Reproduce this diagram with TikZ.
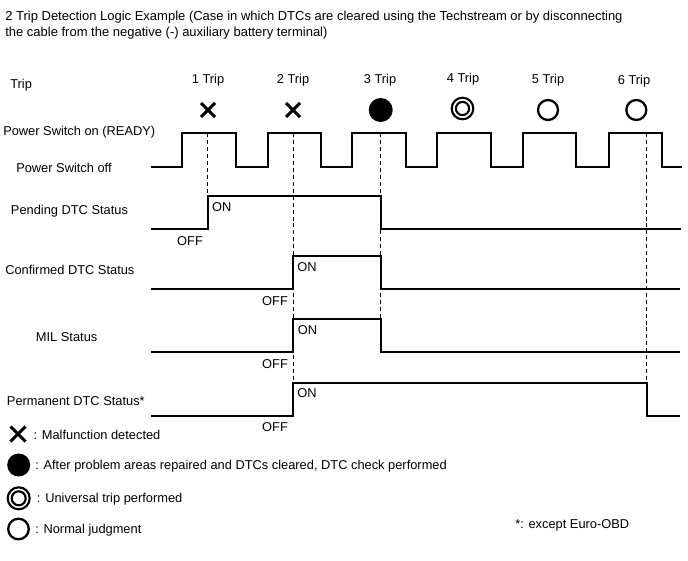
\documentclass[tikz,border=0pt]{standalone}
\usepackage{fontspec}
\setmainfont{Liberation Sans}
\begin{document}
\begin{tikzpicture}[x=0.75pt,y=-0.75pt,
  lbl/.style={inner sep=0pt,font=\fontsize{9.63pt}{11pt}\selectfont},
  ttl/.style={inner sep=0pt,anchor=west,font=\fontsize{9.75pt}{11pt}\selectfont},
  wave/.style={line width=1.5pt,line join=miter},
  guide/.style={line width=1.1pt,dash pattern=on 3pt off 2.2pt},
  xmark/.style={line width=2.3pt},
  ring/.style={line width=1.6pt}]
\path[use as bounding box] (0,0) rectangle (688,560);
% title
\node[ttl] (t1) at (5,17) {2 Trip Detection Logic Example (Case in which DTCs are cleared using the Techstream or by disconnecting};
\node[ttl] (t2) at (5,33.5) {the cable from the negative (-) auxiliary battery terminal)};
% left labels
\node[lbl,anchor=west] (ltrip) at (10,85) {Trip};
\node[lbl,anchor=west] (lon) at (3,132.5) {Power Switch on (READY)};
\node[lbl,anchor=west] (loff) at (16,168) {Power Switch off};
\node[lbl,anchor=west] (lpend) at (10.7,211.5) {Pending DTC Status};
\node[lbl,anchor=west] (lconf) at (5,270) {Confirmed DTC Status};
\node[lbl,anchor=west] (lmil) at (35.7,337.5) {MIL Status};
\node[lbl,anchor=west] (lperm) at (6.7,401.5) {Permanent DTC Status*};
% trip labels
\node[lbl] (tr1) at (208,80) {1 Trip};
\node[lbl] (tr2) at (293,80) {2 Trip};
\node[lbl] (tr3) at (380,80) {3 Trip};
\node[lbl] (tr4) at (463,79) {4 Trip};
\node[lbl] (tr5) at (548,80) {5 Trip};
\node[lbl] (tr6) at (634,81) {6 Trip};
% trip symbols
\draw[xmark] (201,103) -- (215,117) (201,117) -- (215,103);
\draw[xmark] (286,103) -- (300,117) (286,117) -- (300,103);
\fill (380.7,110) circle[radius=12];
\draw[ring] (462.5,108.5) circle[radius=10.8] (462.5,108.5) circle[radius=6.6];
\draw[line width=1.7pt] (548,110) circle[radius=10];
\draw[line width=1.7pt] (636.3,110) circle[radius=10];
% dashed guides
\coordinate (g1a) at (207.7,133.3); \coordinate (g1b) at (207.7,195.7);
\coordinate (g2a) at (293.3,133.3); \coordinate (g2b) at (293.3,415.7);
\coordinate (g3a) at (380.7,133.3); \coordinate (g3b) at (380.7,352.3);
\coordinate (g6a) at (646.5,133.3); \coordinate (g6b) at (646.5,415.7);
\draw[guide] (g1a) -- (g1b);
\draw[guide] (g2a) -- (g2b);
\draw[guide] (g3a) -- (g3b);
\draw[guide] (g6a) -- (g6b);
% power switch waveform
\draw[wave] (151,167.3) -- (182,167.3) -- (182,133.3) -- (236,133.3) -- (236,167.3)
  -- (268,167.3) -- (268,133.3) -- (321,133.3) -- (321,167.3)
  -- (352.3,167.3) -- (352.3,133.3) -- (406.3,133.3) -- (406.3,167.3)
  -- (437.3,167.3) -- (437.3,133.3) -- (491.3,133.3) -- (491.3,167.3)
  -- (523,167.3) -- (523,133.3) -- (576.3,133.3) -- (576.3,167.3)
  -- (609,167.3) -- (609,133.3) -- (662.3,133.3) -- (662.3,167.3) -- (681.5,167.3);
% pending
\draw[wave] (151,229) -- (207.7,229) -- (207.7,195.7) -- (380.7,195.7) -- (380.7,229) -- (681,229);
% confirmed
\draw[wave] (151,289.3) -- (293.3,289.3) -- (293.3,255.7) -- (380.7,255.7) -- (380.7,289.3) -- (680,289.3);
% MIL
\draw[wave] (151,352.3) -- (293.3,352.3) -- (293.3,319.3) -- (380.7,319.3) -- (380.7,352.3) -- (680,352.3);
% permanent
\draw[wave] (151,415.7) -- (293.3,415.7) -- (293.3,382.7) -- (646.5,382.7) -- (646.5,415.7) -- (680,415.7);
% ON / OFF labels
\node[lbl] (pon) at (221.7,207.3) {ON};
\node[lbl] (poff) at (190,240.7) {OFF};
\node[lbl] (con) at (307,266.7) {ON};
\node[lbl] (coff) at (275,300.7) {OFF};
\node[lbl] (mon) at (307.5,330) {ON};
\node[lbl] (moff) at (275,364) {OFF};
\node[lbl] (pmon) at (307,393.3) {ON};
\node[lbl] (pmoff) at (275,427.3) {OFF};
% legend
\draw[xmark] (10.5,426.5) -- (25.5,441.5) (10.5,441.5) -- (25.5,426.5);
\fill (18.7,465) circle[radius=11.5];
\draw[ring] (18.7,498.3) circle[radius=11] (18.7,498.3) circle[radius=7];
\draw[line width=1.7pt] (18.5,529) circle[radius=10.3];
\node[lbl,anchor=west] (leg1) at (33.3,435) {: Malfunction detected};
\node[lbl,anchor=west] (leg2) at (35,466) {: After problem areas repaired and DTCs cleared, DTC check performed};
\node[lbl,anchor=west] (leg3) at (36.7,499) {: Universal trip performed};
\node[lbl,anchor=west] (leg4) at (35,530) {: Normal judgment};
\node[lbl,anchor=west] (note) at (515,525) {*: except Euro-OBD};
\end{tikzpicture}
\end{document}
